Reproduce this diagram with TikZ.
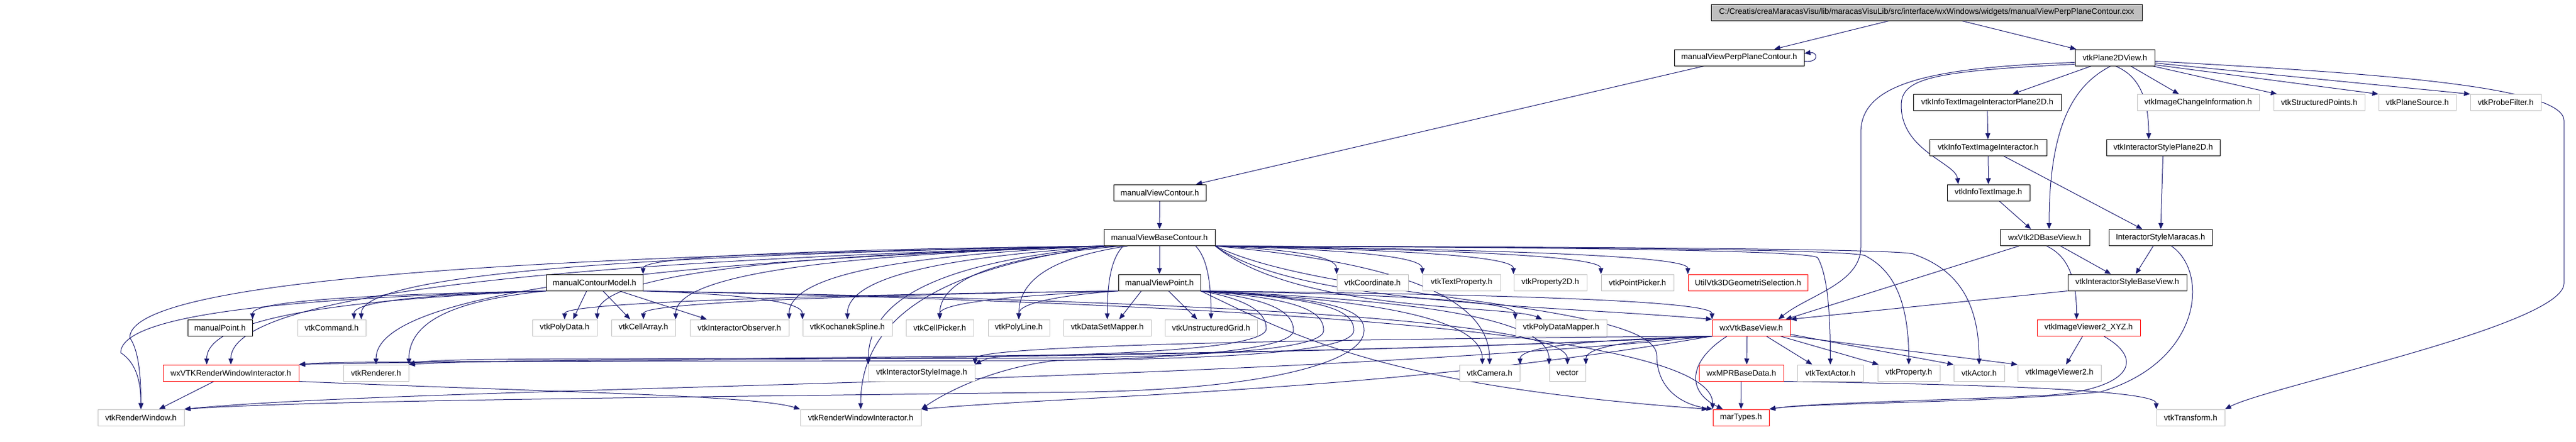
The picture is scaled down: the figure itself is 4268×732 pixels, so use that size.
\documentclass[tikz,border=0pt]{standalone}
\usepackage{fontspec}
\setmainfont{Liberation Sans}
\usetikzlibrary{arrows.meta, calc}

\definecolor{edgeblue}{HTML}{191970}
\definecolor{extgray}{HTML}{BFBFBF}

\pgfdeclarelayer{edges}
\pgfsetlayers{edges,main}

\tikzset{
  hdr/.style={draw=black, fill=white, line width=1pt, minimum height=27, inner sep=0pt,
              font=\fontsize{13.3}{16}\selectfont},
  ext/.style={hdr, draw=extgray},
  nodoc/.style={hdr, draw=red},
  dep/.style={draw=edgeblue, line width=1pt, -{Triangle[length=10pt,width=8pt]},
    to path={let \p1=(\tikztostart), \p2=(\tikztotarget) in
      .. controls ({\x1+0.5*(\x2-\x1)},{\y1-0.1*(\y1-\y2)})
             and ({\x2},{\y2+0.7*(\y1-\y2)}) .. (\tikztotarget) \tikztonodes}},
}

\begin{document}
\begin{tikzpicture}[x=1pt, y=-1pt]
	\useasboundingbox (0,0) rectangle (4268,732);

	\def\lA{20.5};
	\def\lB{95.5};
	\def\lC{170};
	\def\lD{245};
	\def\lE{319.5};
	\def\lF{394};
	\def\lG{468.5};
	\def\lH{543.5};
	\def\lI{618.5};
	\def\lJ{692.5};

	\node[hdr, fill=extgray, minimum width=714] (cxx) at (3192,\lA) {C:/Creatis/creaMaracasVisu/lib/maracasVisuLib/src/interface/wxWindows/widgets/manualViewPerpPlaneContour.cxx};

	\node[hdr, minimum width=215] (mvppc) at (2881.5,\lB) {manualViewPerpPlaneContour.h};
	\node[hdr, minimum width=132] (p2d) at (3504,\lB) {vtkPlane2DView.h};

	\node[hdr, minimum width=245] (itiip) at (3292.5,\lC) {vtkInfoTextImageInteractorPlane2D.h};
	\node[ext, minimum width=202] (imgchg) at (3642,\lC) {vtkImageChangeInformation.h};
	\node[ext, minimum width=151] (strpts) at (3842.5,\lC) {vtkStructuredPoints.h};
	\node[ext, minimum width=128] (plsrc) at (4005,\lC) {vtkPlaneSource.h};
	\node[ext, minimum width=117] (probe) at (4151.5,\lC) {vtkProbeFilter.h};

	\node[hdr, minimum width=194] (itii) at (3294,\lD) {vtkInfoTextImageInteractor.h};
	\node[hdr, minimum width=188] (isp2d) at (3584,\lD) {vtkInteractorStylePlane2D.h};

	\node[hdr, minimum width=153] (mvc) at (1921.5,\lE) {manualViewContour.h};
	\node[hdr, minimum width=137] (iti) at (3294.5,\lE) {vtkInfoTextImage.h};

	\node[hdr, minimum width=184] (mvbc) at (1921,\lF) {manualViewBaseContour.h};
	\node[hdr, minimum width=148] (wx2d) at (3388,\lF) {wxVtk2DBaseView.h};
	\node[hdr, minimum width=171] (ismar) at (3579.5,\lF) {InteractorStyleMaracas.h};

	\node[hdr, minimum width=160] (mcm) at (985,\lG) {manualContourModel.h};
	\node[hdr, minimum width=136] (mvp) at (1921,\lG) {manualViewPoint.h};
	\node[ext, minimum width=118] (coord) at (2274,\lG) {vtkCoordinate.h};
	\node[ext, minimum width=129] (tprop) at (2421.5,\lG) {vtkTextProperty.h};
	\node[ext, minimum width=121] (prop2d) at (2568.5,\lG) {vtkProperty2D.h};
	\node[ext, minimum width=120] (ppick) at (2713,\lG) {vtkPointPicker.h};
	\node[nodoc, minimum width=198] (util3d) at (2896,\lG) {UtilVtk3DGeometriSelection.h};
	\node[hdr, minimum width=197] (isbv) at (3524.5,\lG) {vtkInteractorStyleBaseView.h};

	\node[hdr, minimum width=107] (mpoint) at (364.5,\lH) {manualPoint.h};
	\node[ext, minimum width=113] (cmd) at (549.5,\lH) {vtkCommand.h};
	\node[ext, minimum width=107] (pdata) at (935.5,\lH) {vtkPolyData.h};
	\node[ext, minimum width=106] (carray) at (1066,\lH) {vtkCellArray.h};
	\node[ext, minimum width=164] (iobs) at (1225,\lH) {vtkInteractorObserver.h};
	\node[ext, minimum width=148] (koch) at (1404,\lH) {vtkKochanekSpline.h};
	\node[ext, minimum width=112] (cpick) at (1557,\lH) {vtkCellPicker.h};
	\node[ext, minimum width=102] (pline) at (1688,\lH) {vtkPolyLine.h};
	\node[ext, minimum width=145] (dsmap) at (1834.5,\lH) {vtkDataSetMapper.h};
	\node[ext, minimum width=153] (ugrid) at (2006.5,\lH) {vtkUnstructuredGrid.h};
	\node[ext, minimum width=151] (pdmap) at (2586.5,\lH) {vtkPolyDataMapper.h};
	\node[nodoc, minimum width=129] (wxbv) at (2901.5,\lH) {wxVtkBaseView.h};
	\node[nodoc, minimum width=171] (iv2xyz) at (3460.5,\lH) {vtkImageViewer2\_XYZ.h};

	\node[nodoc, minimum width=225] (wxrwi) at (382.5,\lI) {wxVTKRenderWindowInteractor.h};
	\node[ext, minimum width=108] (rend) at (623,\lI) {vtkRenderer.h};
	\node[ext, minimum width=176] (isimg) at (1527,\lI) {vtkInteractorStyleImage.h};
	\node[ext, minimum width=100] (cam) at (2468,\lI) {vtkCamera.h};
	\node[ext, minimum width=60] (vect) at (2597,\lI) {vector};
	\node[nodoc, minimum width=140] (mpr) at (2885,\lI) {wxMPRBaseData.h};
	\node[ext, minimum width=109] (tact) at (3032.5,\lI) {vtkTextActor.h};
	\node[ext, minimum width=103] (prop) at (3162.5,\lI) {vtkProperty.h};
	\node[ext, minimum width=84] (actor) at (3279,\lI) {vtkActor.h};
	\node[ext, minimum width=138] (iv2) at (3412,\lI) {vtkImageViewer2.h};

	\node[ext, minimum width=143] (rwin) at (233.5,\lJ) {vtkRenderWindow.h};
	\node[ext, minimum width=200] (rwi) at (1426,\lJ) {vtkRenderWindowInteractor.h};
	\node[nodoc, minimum width=93] (mart) at (2884.5,\lJ) {marTypes.h};
	\node[ext, minimum width=113] (transf) at (3629.5,\lJ) {vtkTransform.h};

	\begin{pgfonlayer}{edges}
	% top of the tree
	\draw[dep] ([xshift=-62]cxx.south) -- ([xshift=58]mvppc.north);
	\draw[dep] ([xshift=58]cxx.south) -- ([xshift=-64]p2d.north);
	\draw[dep] ([yshift=-6]mvppc.east) .. controls +(26,3) and +(22,-3) .. ([yshift=7]mvppc.east);
	\draw[dep] ([xshift=-58]mvppc.south) -- ([xshift=60]mvc.north);
	\draw[dep] (mvc) -- (mvbc);

	\draw[dep] ([xshift=-39]p2d.south) -- ([xshift=42]itiip.north);
	\draw[dep] ([xshift=26]p2d.south) -- ([xshift=-32]imgchg.north);
	\draw[dep] ([xshift=-4]p2d.south east) -- ([xshift=-70]strpts.north);
	\draw[dep] ([yshift=2]p2d.south east) -- (plsrc.north west);
	\draw[dep] ([yshift=5]p2d.south east) -- (probe.north west);
	\draw[dep] ([xshift=1]p2d.south) to ([xshift=-24]isp2d.north);
	\draw[dep] ([xshift=-7]p2d.south) to ([xshift=7]wx2d.north);
	\draw[dep] ([yshift=3]p2d.south west) .. controls (3200,118) and (3150,130) .. (3150,175)
		.. controls (3150,250) and (3240,270) .. ([xshift=-50]iti.north);
	\draw[dep] ([yshift=6]p2d.south west) .. controls (3190,112) and (3083,140) .. (3083,220)
		-- (3083,410) .. controls (3083,470) and (2995,490) .. ([xshift=45]wxbv.north);
	\draw[dep] ([yshift=8]p2d.south east) .. controls (3900,120) and (4248,140) .. (4248,200)
		-- (4248,470) .. controls (4248,540) and (3760,640) .. (transf.north east);

	\draw[dep] (itiip) -- (itii);
	\draw[dep] (itii) -- (iti);
	\draw[dep] ([xshift=26]itii.south) -- ([xshift=-30]ismar.north);
	\draw[dep] (isp2d) -- (ismar);
	\draw[dep] ([xshift=18]iti.south) -- ([xshift=-23]wx2d.north);
	\draw[dep] ([xshift=26]wx2d.south) -- ([xshift=-27]isbv.north);
	\draw[dep] ([xshift=3]wx2d.south) to ([xshift=-20]iv2xyz.north);
	\draw[dep] ([xshift=-43]wx2d.south) -- ([xshift=-8]wxbv.north east);
	\draw[dep] ([xshift=-12]ismar.south) -- ([xshift=14]isbv.north);
	\draw[dep] ([xshift=18]ismar.south) .. controls (3660,450) and (3650,600) .. (3480,650)
		.. controls (3300,668) and (3000,668) .. (mart.north east);
	\draw[dep] (isbv.south west) -- (wxbv.north east);
	\draw[dep] ([xshift=-10]iv2xyz.south) -- ([xshift=11]iv2.north);
	\draw[dep] ([xshift=25]iv2xyz.south) .. controls (3560,600) and (3520,645) .. (3400,655)
		.. controls (3200,665) and (3000,668) .. (mart.north east);
	\draw[dep] (mpr) -- (mart);
	\draw[dep] (mpr.south east) to (transf.north west);

	% manualViewBaseContour.h
	\draw[dep] (mvbc) -- (mvp);
	\draw[dep] (mvbc.south west) to (mcm.north east);
	\foreach \tgt in {coord,tprop,prop2d,ppick,util3d}
		\draw[dep] (mvbc.south east) to (\tgt.north west);
	\draw[dep] (mvbc.south east) .. controls (2150,505) and (2550,505) .. (wxbv.north west);
	\draw[dep] (mvbc.south east) to (3012,428) to (tact);
	\draw[dep] (mvbc.south east) to (3092,425) to (prop);
	\draw[dep] (mvbc.south east) to (3172,422) to (actor);
	\draw[dep] (mvbc.south east) .. controls (2200,500) and (2745,500) .. (2745,590)
		.. controls (2745,640) and (2780,670) .. (mart.north west);
	\draw[dep] (mvbc.south east) .. controls (2150,520) and (2500,505) .. (pdmap);
	\draw[dep] (mvbc.south east) to (cam);
	\foreach \tgt in {pdata,carray,iobs}
		\draw[dep] (mvbc.south west) to (\tgt.north east);
	\draw[dep] (mvbc.south west) to ([xshift=-8]cmd.north east);
	\draw[dep] (mvbc.south west) to (rend);
	\draw[dep] (mvbc.south west) to (wxrwi);
	\draw[dep] (mvbc.south west) to (215,560) to (rwin);
	\draw[dep] (mvbc.south west) to (rwi);
	\draw[dep] ([xshift=10]mvbc.south west) to (isimg.north west);
	\draw[dep] ([xshift=20]mvbc.south west) to (koch);
	\draw[dep] ([xshift=30]mvbc.south west) to (cpick);
	\draw[dep] ([xshift=40]mvbc.south west) to (pline);
	\draw[dep] ([xshift=-60]mvbc.south) to (dsmap);
	\draw[dep] ([xshift=60]mvbc.south) to (ugrid);

	% manualContourModel.h
	\draw[dep] (mcm.south west) to (mpoint.north east);
	\draw[dep] (mcm.south west) to ([xshift=-20]cmd.north east);
	\draw[dep] ([xshift=-13]mcm.south) -- ([xshift=14]pdata.north);
	\draw[dep] ([xshift=14]mcm.south) -- ([xshift=-22]carray.north);
	\draw[dep] ([xshift=41]mcm.south) -- ([xshift=-54]iobs.north);
	\draw[dep] (mcm.south east) to (koch.north west);
	\draw[dep] (mcm.south east) to (vect);
	\draw[dep] (mcm.south east) to (mart.north west);
	\draw[dep] (mcm.south west) to (rend.north east);
	\draw[dep] (mcm.south west) to ([xshift=-40]wxrwi.north);
	\draw[dep] (mcm.south west) to (200,585) to (rwin);

	% manualViewPoint.h
	\draw[dep] ([xshift=-30]mvp.south) -- ([xshift=20]dsmap.north);
	\draw[dep] ([xshift=15]mvp.south) -- ([xshift=-23]ugrid.north);
	\foreach \tgt in {pdata,carray,cpick,pline}
		\draw[dep] (mvp.south west) to (\tgt);
	\draw[dep] (mvp.south east) to (pdmap.north west);
	\draw[dep] (mvp.south east) to ([xshift=-12]cam.north);
	\draw[dep] (mvp.south east) to (vect.north west);
	\draw[dep] (mvp.south east) to (wxbv.north west);
	\draw[dep] (mvp.south east) .. controls (2150,560) and (2300,640) .. ([xshift=-8]mart.north west);
	\draw[dep] (mvp.south east) .. controls (2060,495) and (2098,515) .. (2098,545)
		.. controls (2098,575) and (1900,586) .. (1700,590) .. controls (1640,592) .. (isimg.north east);
	\draw[dep] (mvp.south east) .. controls (2100,495) and (2143,515) .. (2143,548)
		.. controls (2143,580) and (1950,594) .. (1750,598) .. controls (1640,610) and (1560,655) .. (rwi.north east);
	\draw[dep] (mvp.south east) .. controls (2150,495) and (2193,515) .. (2193,548)
		.. controls (2193,580) and (2000,592) .. (1700,594) .. controls (1100,596) and (720,592) .. (rend.north east);
	\draw[dep] (mvp.south east) .. controls (2200,495) and (2243,515) .. (2243,548)
		.. controls (2243,582) and (2050,596) .. (1700,598) .. controls (1000,600) and (560,598) .. (wxrwi.north east);
	\draw[dep] (mvp.south east) .. controls (2220,495) and (2260,515) .. (2260,548)
		.. controls (2260,600) and (2100,645) .. (1800,650) .. controls (1000,660) and (500,665) .. (rwin.north east);

	% wxVtkBaseView.h
	\draw[dep] (wxbv.south west) to (vect.north east);
	\draw[dep] ([xshift=-7]wxbv.south) -- ([xshift=9]mpr.north);
	\draw[dep] ([xshift=-40]wxbv.south) .. controls (2795,600) and (2795,650) .. ([xshift=-30]mart.north);
	\draw[dep] ([xshift=25]wxbv.south) -- ([xshift=-30]tact.north);
	\draw[dep] ([xshift=48]wxbv.south) -- ([xshift=-50]prop.north);
	\draw[dep] ([yshift=3]wxbv.south east) -- (actor.north west);
	\draw[dep] (wxbv.south east) -- (iv2.north west);
	\draw[dep] (wxbv.south west) to (cam.north east);
	\draw[dep] (wxbv.south west) to (isimg.north east);
	\draw[dep] (wxbv.south west) .. controls (2300,650) and (1800,655) .. (rwi.north east);
	\draw[dep] (wxbv.south west) .. controls (2000,600) and (900,590) .. (rend.north east);
	\draw[dep] (wxbv.south west) .. controls (2000,600) and (800,596) .. (wxrwi.north east);
	\draw[dep] (wxbv.south west) .. controls (2000,640) and (700,640) .. (rwin.north east);

	\draw[dep] ([xshift=-28]wxrwi.south) -- ([xshift=30]rwin.north);
	\draw[dep] (wxrwi.south east) .. controls (900,650) and (1250,655) .. (rwi.north west);
	\end{pgfonlayer}
\end{tikzpicture}
\end{document}
